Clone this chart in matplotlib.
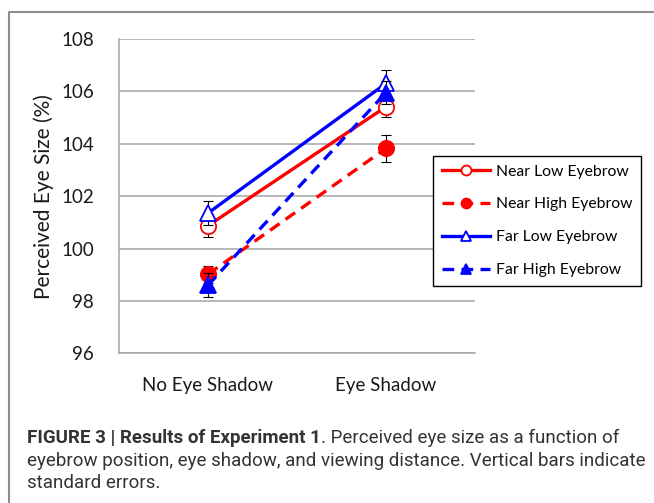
import numpy as np
import matplotlib
matplotlib.use("Agg")
import matplotlib.pyplot as plt
from matplotlib.lines import Line2D

# donnees
categories = ["No Eye Shadow", "Eye Shadow"]
series_names = ["Near Low Eyebrow", "Near High Eyebrow", "Far Low Eyebrow", "Far High Eyebrow"]
near_low = [100.87, 105.41]
near_high = [99.02, 103.82]
far_low = [101.35, 106.3]
far_high = [98.6, 105.95]
err_near_low = [0.45, 0.4]
err_near_high = [0.32, 0.5]
err_far_low = [0.45, 0.5]
err_far_high = [0.45, 0.45]
yticks = [96, 98, 100, 102, 104, 106, 108]

W, H = 654, 503
fig = plt.figure(figsize=(W / 100, H / 100), dpi=100)
ax = fig.add_axes([119 / W, 1 - 353.3 / H, (475 - 119) / W, (353.3 - 38.9) / H])

x = np.arange(len(categories))
styles = [
    (near_low, err_near_low, "red", "-", "o", "white"),
    (near_high, err_near_high, "red", (0, (3.5, 2.2)), "o", "red"),
    (far_low, err_far_low, "blue", "-", "^", "white"),
    (far_high, err_far_high, "blue", (0, (3.5, 2.2)), "^", "blue"),
]
handles = []
for i, (vals, err, col, ls, mk, face) in enumerate(styles):
    ax.errorbar(x, vals, yerr=err, fmt="none", ecolor="black", elinewidth=0.8,
                capsize=3.5, capthick=0.8, zorder=3 + 2 * i)
    h, = ax.plot(x, vals, color=col, linestyle=ls, linewidth=2.4, marker=mk,
                 markersize=11, markerfacecolor=face, markeredgecolor=col,
                 markeredgewidth=1.3, zorder=4 + 2 * i, label=series_names[i])
    handles.append(h)

ax.set_xlim(-0.5, 1.5)
ax.set_ylim(96, 108)
ax.set_yticks(yticks)
ax.set_xticks(x)
ax.set_xticklabels(categories)
ax.yaxis.grid(True, color="#a6a6a6", linewidth=1.1)
ax.set_axisbelow(True)
for s in ["top", "right"]:
    ax.spines[s].set_visible(False)
for s in ["left", "bottom"]:
    ax.spines[s].set_color("#a6a6a6")
    ax.spines[s].set_linewidth(1.1)
ax.tick_params(length=0, labelsize=13.5, colors="#1a1a1a")
ax.tick_params(axis="y", pad=18)
ax.tick_params(axis="x", pad=17)
for t in ax.get_xticklabels() + ax.get_yticklabels():
    t.set_fontfamily("Lato")
ax.set_ylabel("Perceived Eye Size (%)", fontsize=15, family="Lato", labelpad=5, color="#1a1a1a")

leg = fig.legend(handles=handles, loc="upper left", bbox_to_anchor=(433 / W, 1 - 156 / H),
                 frameon=True, fancybox=False, edgecolor="black", framealpha=1,
                 prop={"family": "Lato", "size": 11.3}, handlelength=3.1,
                 labelspacing=1.2, markerscale=0.65, borderpad=0.55, handletextpad=0.35,
                 borderaxespad=0)
leg.get_frame().set_linewidth(1.0)

# cadre autour de la figure
fig.add_artist(Line2D([9 / W, 9 / W, 1.01], [-0.01, 1 - 12 / H, 1 - 12 / H],
                      color="#8c8c8c", linewidth=1.5, transform=fig.transFigure))

# legende de la figure
cap_kw = dict(fontsize=13.5, family="Roboto", color="#333333")
t1 = fig.text(27 / W, 1 - 438 / H, "FIGURE 3 | Results of Experiment 1", weight="bold",
              va="center", **cap_kw)
fig.add_artist(plt.Annotation(". Perceived eye size as a function of", xy=(1, 0.5),
                              xycoords=t1, va="center", ha="left", **cap_kw))
fig.text(27 / W, 1 - 461 / H, "eyebrow position, eye shadow, and viewing distance. Vertical bars indicate",
         va="center", **cap_kw)
fig.text(27 / W, 1 - 483 / H, "standard errors.", va="center", **cap_kw)

fig.savefig("out.png", dpi=100)
